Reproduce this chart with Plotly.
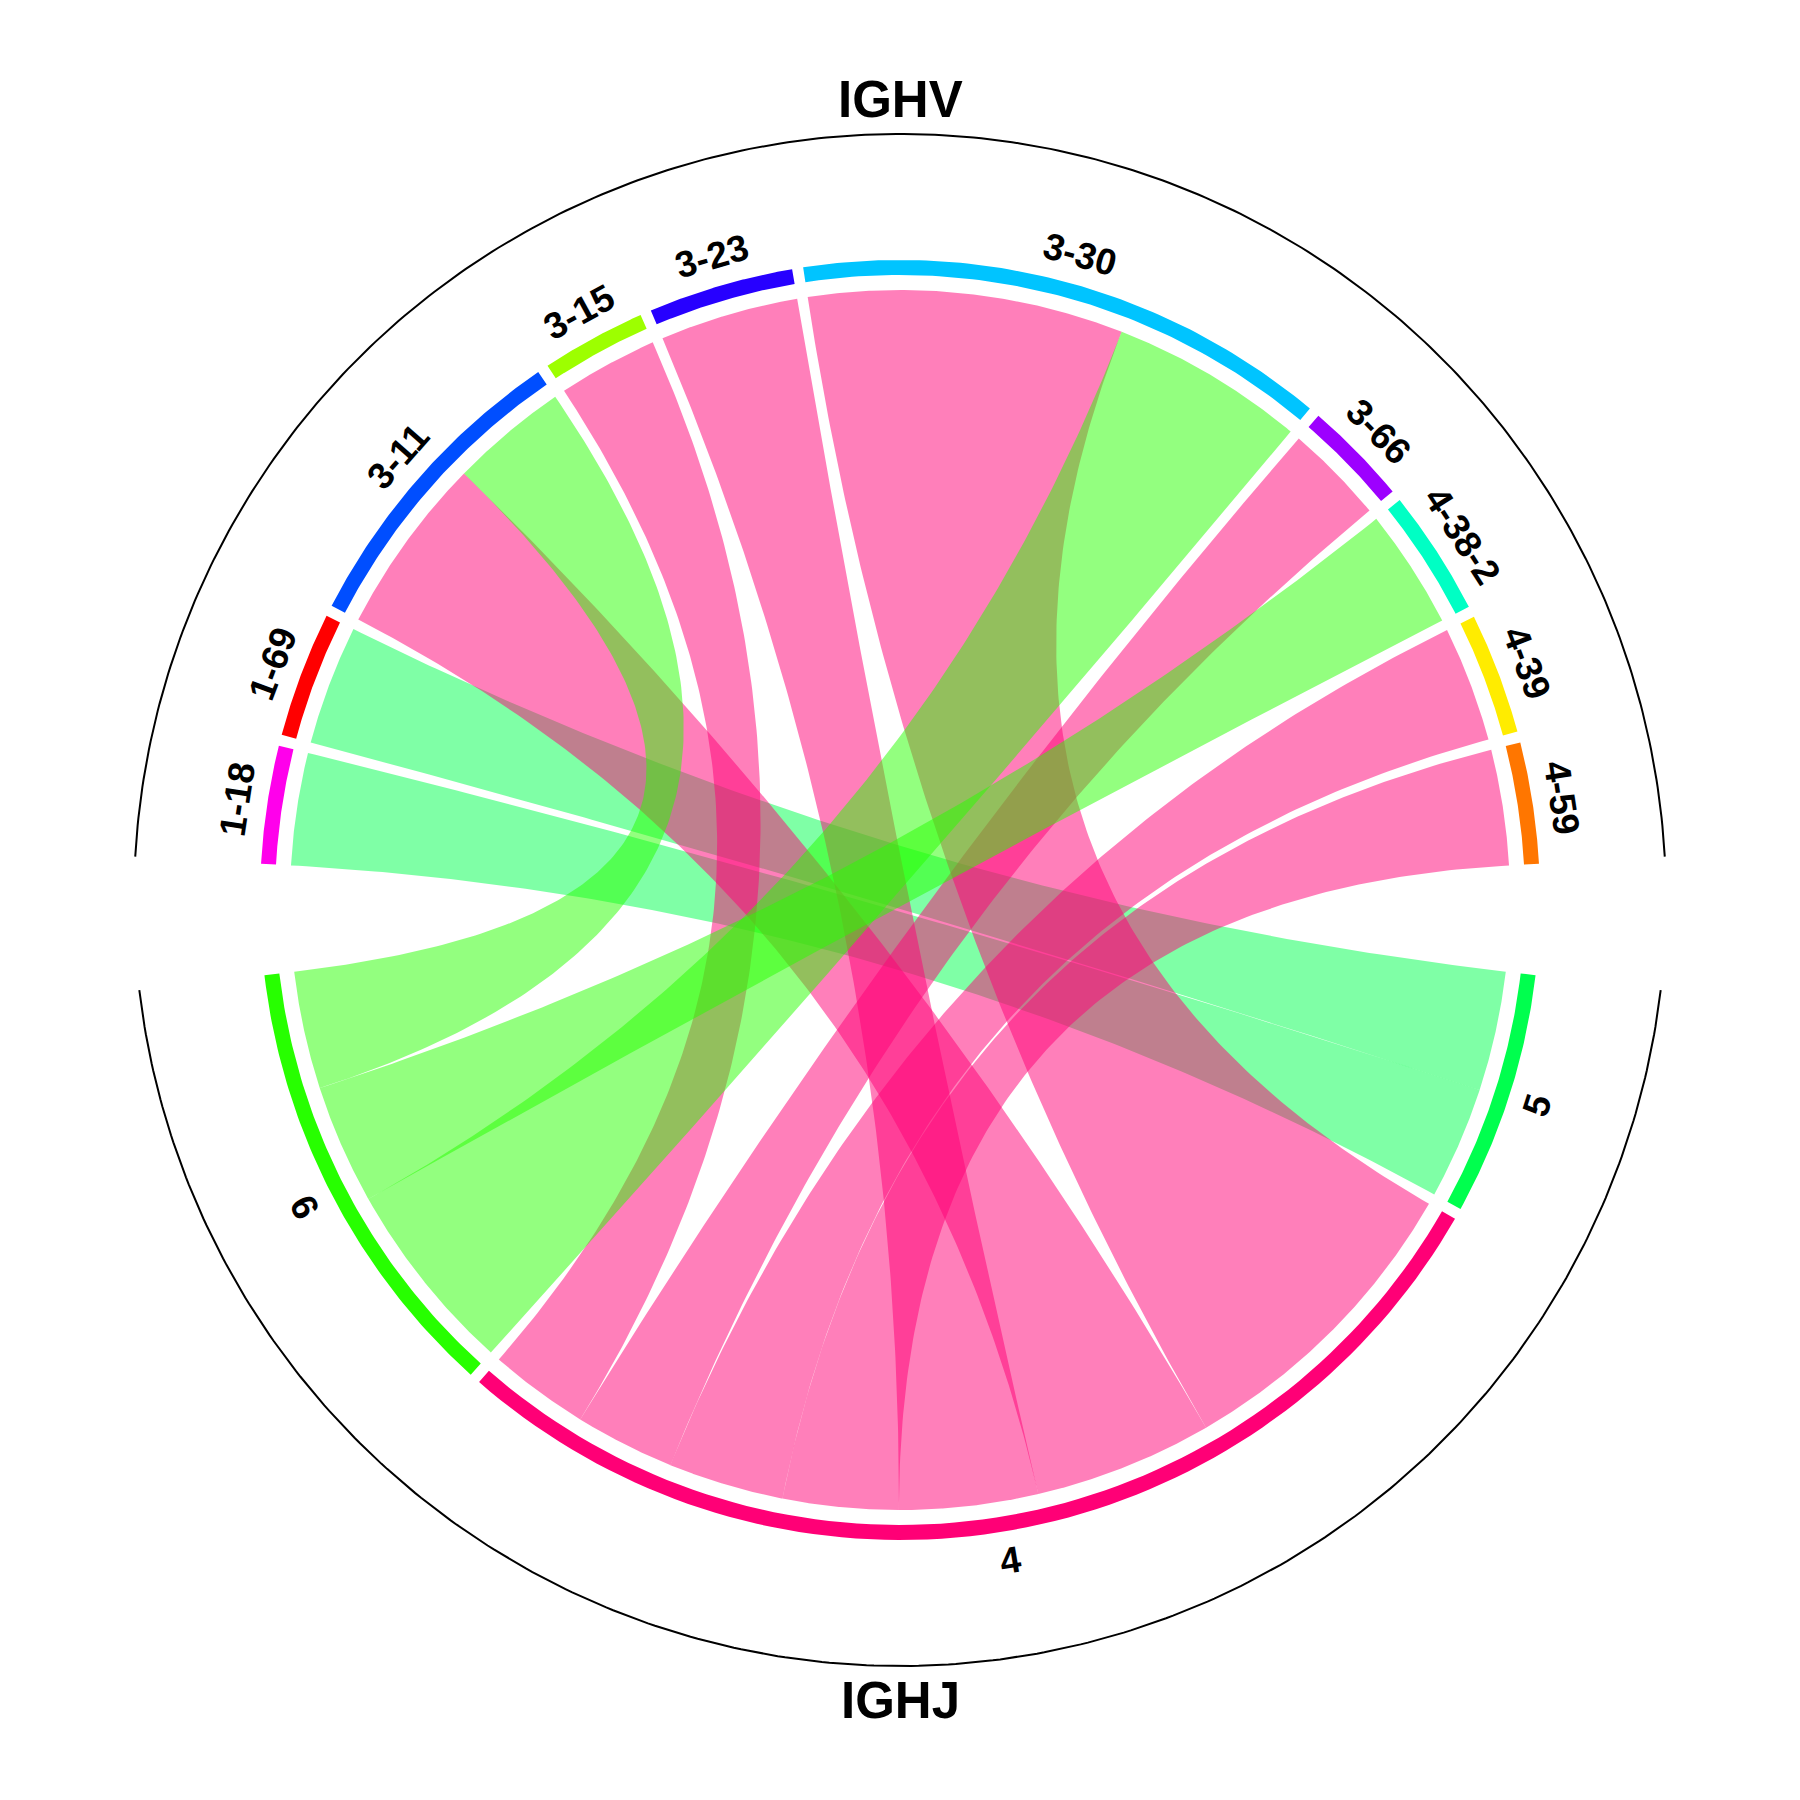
import numpy as np
import plotly.graph_objects as go

# ---------------- data ----------------
ighv_genes = ["1-18", "1-69", "3-11", "3-15", "3-23", "3-30", "3-66", "4-38-2", "4-39", "4-59"]
ighj_genes = ["5", "4", "6"]
ighv_colors = ["#FF00EB", "#FF0000", "#004EFF", "#9DFF00", "#2700FF", "#00C4FF",
               "#9D00FF", "#00FFC4", "#FFEC00", "#FF7600"]
ighj_colors = ["#00FF4E", "#FF0076", "#27FF00"]

link_from = ["1-18", "1-69", "3-11", "3-11", "3-15", "3-23", "3-30", "3-30", "3-66", "4-38-2", "4-39", "4-59"]
link_to = ["5", "5", "4", "6", "4", "4", "4", "6", "4", "6", "4", "4"]
link_value = [10.7, 11.4, 17.0, 11.2, 9.5, 13.2, 30.0, 18.5, 9.5, 11.4, 11.0, 11.0]

group_titles = ["IGHV", "IGHJ"]

# ---------------- geometry ----------------
BIG_GAP = 10.0
SMALL_GAP = 1.0
R_LINK = 610
R_RING_IN = 625
R_RING_OUT = 640
R_LABEL = 670
R_OUTER = 766
FONT = "Liberation Sans, Arial, Helvetica, sans-serif"
PAGE_OFFSET = 8  # default body margin of the html page

total = sum(link_value)
n_small = (len(ighv_genes) - 1) + (len(ighj_genes) - 1)
unit = (360 - 2 * BIG_GAP - n_small * SMALL_GAP) / (2 * total)


def sector_sums(genes, keys):
    return [sum(v for k, v in zip(keys, link_value) if k == g) for g in genes]


v_sums = sector_sums(ighv_genes, link_from)
j_sums = sector_sums(ighj_genes, link_to)


def layout_group(genes, sums, center):
    span = sum(sums) * unit + (len(genes) - 1) * SMALL_GAP
    start = center + span / 2
    pos = {}
    a = start
    for g, s in zip(genes, sums):
        pos[g] = (a, a - s * unit)
        a = a - s * unit - SMALL_GAP
    return pos, start, start - span


v_pos, v_start, v_end = layout_group(ighv_genes, v_sums, 90)
j_pos, j_start, j_end = layout_group(ighj_genes, j_sums, -90)


def allocate(genes, keys, pos):
    alloc = {}
    for g in genes:
        idx = [i for i, k in enumerate(keys) if k == g]
        idx.sort(key=lambda i: (-link_value[i], -i))
        a = pos[g][0]
        for i in idx:
            w = link_value[i] * unit
            alloc[i] = (a, a - w)
            a -= w
    return alloc


v_alloc = allocate(ighv_genes, link_from, v_pos)
j_alloc = allocate(ighj_genes, link_to, j_pos)


def arc(r, t1, t2, n=120):
    t = np.radians(np.linspace(t1, t2, n))
    return r * np.cos(t), r * np.sin(t)


def bez(t_a, t_b, r, n=160):
    p0 = np.array([r * np.cos(np.radians(t_a)), r * np.sin(np.radians(t_a))])
    p2 = np.array([r * np.cos(np.radians(t_b)), r * np.sin(np.radians(t_b))])
    t = np.linspace(0, 1, n)[:, None]
    pts = (1 - t) ** 2 * p0 + t ** 2 * p2
    return pts[:, 0], pts[:, 1]


def hex_rgba(h, a):
    h = h.lstrip("#")
    return f"rgba({int(h[0:2],16)},{int(h[2:4],16)},{int(h[4:6],16)},{a})"


fig = go.Figure()

# links, drawn grouped by IGHJ target in order 5, 4, 6
for jg, jc in zip(ighj_genes, ighj_colors):
    for i in range(len(link_value)):
        if link_to[i] != jg:
            continue
        a1, a2 = v_alloc[i]
        b1, b2 = j_alloc[i]
        xs, ys = [], []
        x, y = arc(R_LINK, a1, a2); xs += list(x); ys += list(y)
        x, y = bez(a2, b1, R_LINK); xs += list(x); ys += list(y)
        x, y = arc(R_LINK, b1, b2); xs += list(x); ys += list(y)
        x, y = bez(b2, a1, R_LINK); xs += list(x); ys += list(y)
        fig.add_trace(go.Scatter(x=xs, y=ys, mode="lines", fill="toself",
                                 fillcolor=hex_rgba(jc, 0.5), line=dict(width=0),
                                 hoverinfo="skip", showlegend=False))


# sector rings
def ring(t1, t2, color):
    xo, yo = arc(R_RING_OUT, t1, t2, 80)
    xi, yi = arc(R_RING_IN, t2, t1, 80)
    fig.add_trace(go.Scatter(x=list(xo) + list(xi), y=list(yo) + list(yi), mode="lines",
                             fill="toself", fillcolor=color, line=dict(width=0),
                             hoverinfo="skip", showlegend=False))


for g, c in zip(ighv_genes, ighv_colors):
    ring(*v_pos[g], c)
for g, c in zip(ighj_genes, ighj_colors):
    ring(*j_pos[g], c)

# outer group arcs
for s, e in [(v_start, v_end), (j_start, j_end)]:
    x, y = arc(R_OUTER, s, e, 300)
    fig.add_trace(go.Scatter(x=x, y=y, mode="lines", line=dict(color="black", width=2),
                             hoverinfo="skip", showlegend=False))

annotations = []
for g in ighv_genes:
    t = (v_pos[g][0] + v_pos[g][1]) / 2
    annotations.append(dict(x=R_LABEL * np.cos(np.radians(t)), y=R_LABEL * np.sin(np.radians(t)),
                            text=f"<b>{g}</b>", textangle=90 - t, showarrow=False,
                            xanchor="center", yanchor="middle",
                            font=dict(family=FONT, size=37, color="black")))
for g in ighj_genes:
    t = (j_pos[g][0] + j_pos[g][1]) / 2
    annotations.append(dict(x=R_LABEL * np.cos(np.radians(t)), y=R_LABEL * np.sin(np.radians(t)),
                            text=f"<b>{g}</b>", textangle=-90 - t, showarrow=False,
                            xanchor="center", yanchor="middle",
                            font=dict(family=FONT, size=37, color="black")))

annotations.append(dict(x=0, y=801, text=f"<b>{group_titles[0]}</b>", showarrow=False,
                        xanchor="center", yanchor="middle",
                        font=dict(family=FONT, size=51, color="black")))
annotations.append(dict(x=0, y=-800, text=f"<b>{group_titles[1]}</b>", showarrow=False,
                        xanchor="center", yanchor="middle",
                        font=dict(family=FONT, size=51, color="black")))

fig.update_layout(width=1800, height=1800, margin=dict(l=0, r=0, t=0, b=0),
                  paper_bgcolor="white", plot_bgcolor="white",
                  xaxis=dict(range=[-900 + PAGE_OFFSET, 900 + PAGE_OFFSET], visible=False, fixedrange=True),
                  yaxis=dict(range=[-900 - PAGE_OFFSET, 900 - PAGE_OFFSET], visible=False, fixedrange=True),
                  annotations=annotations, showlegend=False)

fig.write_html("out.html")
